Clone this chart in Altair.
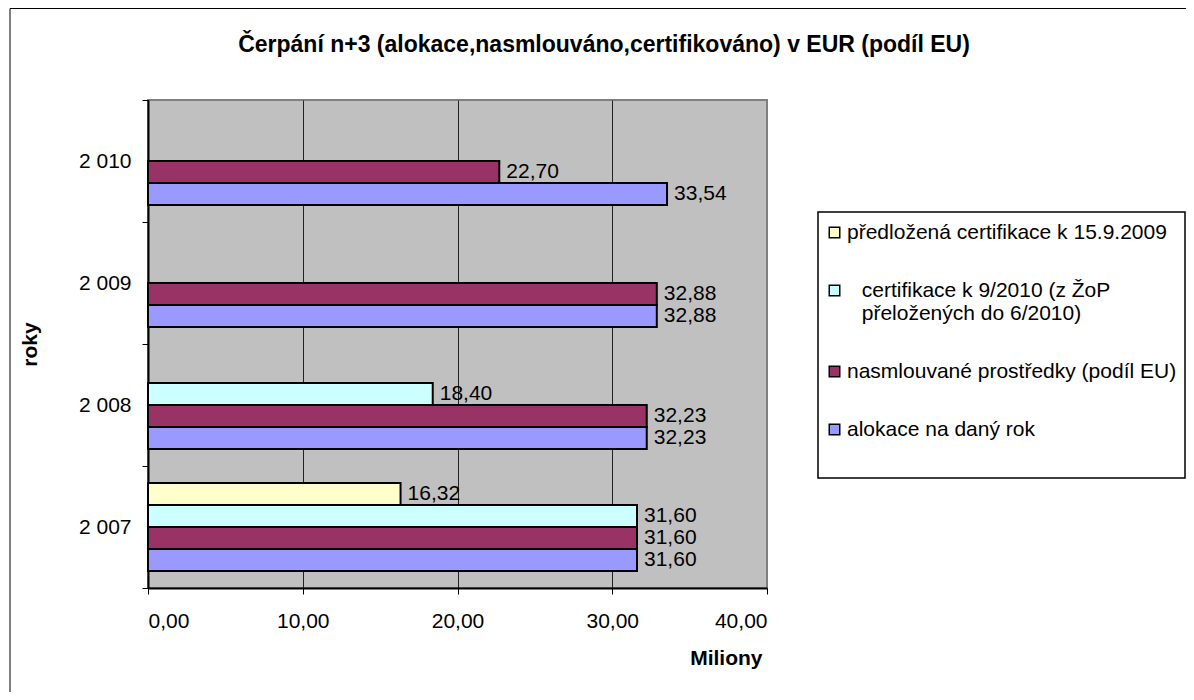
import altair as alt
import pandas as pd

# ---- data ----
title_text = "Čerpání n+3 (alokace,nasmlouváno,certifikováno) v EUR (podíl EU)"
years = ["2 007", "2 008", "2 009", "2 010"]
series = [
    "předložená certifikace k 15.9.2009",
    "certifikace k 9/2010 (z ŽoP přeložených do 6/2010)",
    "nasmlouvané prostředky (podíl EU)",
    "alokace na daný rok",
]
colors = ["#FFFFCC", "#CCFFFF", "#993366", "#9999FF"]

predlozena = [16.32, None, None, None]
certifikace = [31.60, 18.40, None, None]
nasmlouvano = [31.60, 32.23, 32.88, 22.70]
alokace = [31.60, 32.23, 32.88, 33.54]

x_ticks = [0, 10, 20, 30, 40]

rows = []
for s, vals in zip(series, [predlozena, certifikace, nasmlouvano, alokace]):
    for y, v in zip(years, vals):
        if v is not None:
            rows.append({"rok": y, "serie": s, "hodnota": v,
                         "popisek": f"{v:.2f}".replace(".", ",")})
df = pd.DataFrame(rows)

FONT = "Liberation Sans"

y_enc = alt.Y(
    "rok:N",
    sort=years[::-1],
    scale=alt.Scale(paddingInner=0, paddingOuter=0),
    axis=alt.Axis(
        title="roky", tickBand="extent", grid=False,
        domainColor="black", domainWidth=2,
        tickColor="black", tickSize=6, tickWidth=1,
        labelFontSize=21, labelColor="black", labelPadding=11, labelFont=FONT,
        titleFontSize=21, titleFontWeight="bold", titleColor="black", titleFont=FONT,
        titleAngle=270, titleX=-118, titleY=244,
        titleAlign="center", titleBaseline="middle",
    ),
)
x_enc = alt.X(
    "hodnota:Q",
    scale=alt.Scale(domain=[0, 40], nice=False),
    axis=alt.Axis(
        values=x_ticks, title="Miliony",
        labelExpr="replace(format(datum.value, '.2f'), '.', ',')",
        grid=True,
        gridColor={"condition": {"test": "datum.value >= 40", "value": "#808080"},
                   "value": "#222222"},
        gridWidth=1,
        domainColor="black", domainWidth=2,
        tickColor="black", tickSize=6, tickWidth=1,
        labelFontSize=21, labelColor="black", labelPadding=16, labelFont=FONT,
        titleFontSize=21, titleFontWeight="bold", titleColor="black", titleFont=FONT,
        titleX=614, titleY=70, titleAlign="right", titleBaseline="middle",
    ),
)
yoff = alt.YOffset(
    "serie:N",
    sort=series,
    scale=alt.Scale(domain=series, paddingInner=0, paddingOuter=0.7727),
)

legend = alt.Legend(
    orient="none", legendX=676, legendY=122, title=None, padding=0,
    symbolType="square", symbolSize=110, symbolStrokeColor="black",
    symbolStrokeWidth=1.5, symbolOpacity=1,
    labelFontSize=21, labelColor="black", labelFont=FONT, labelOffset=2,
    labelLimit=400, rowPadding=36,
    labelExpr="indexof(datum.label, 'ŽoP') > 0 ? ['\u200b\u2002\u2009certifikace k 9/2010 (z ŽoP', '\u2060\u200b\u2002\u2009přeložených do 6/2010)'] : datum.label",
)

bars = alt.Chart(df).mark_bar(stroke="black", strokeWidth=2).encode(
    x=x_enc, y=y_enc, yOffset=yoff,
    color=alt.Color("serie:N", scale=alt.Scale(domain=series, range=colors), legend=legend),
)
texts = alt.Chart(df).mark_text(
    align="left", baseline="middle", dx=7, fontSize=21, color="black", font=FONT
).encode(x=x_enc, y=y_enc, yOffset=yoff, text="popisek:N")

one = pd.DataFrame({"k": [0]})
frame = alt.Chart(one).mark_rect(fillOpacity=0, stroke="black", strokeWidth=1).encode(
    x=alt.value(-138), x2=alt.value(1100), y=alt.value(-91.5), y2=alt.value(700)
)
legend_box = alt.Chart(one).mark_rect(fill="white", stroke="black", strokeWidth=1.5).encode(
    x=alt.value(670), x2=alt.value(1037), y=alt.value(112), y2=alt.value(378)
)
title = alt.Chart(one).mark_text(
    text=title_text, fontSize=23, fontWeight="bold", font=FONT, color="black",
    align="center", baseline="middle",
).encode(x=alt.value(456), y=alt.value(-55))

chart = alt.layer(frame, legend_box, title, bars, texts).properties(
    width=619, height=488,
    autosize=alt.AutoSizeParams(type="none"),
    padding={"left": 140, "top": 92, "right": 419, "bottom": 104},
).configure(background="white").configure_view(
    fill="#C0C0C0", stroke="#808080", strokeWidth=2
)

chart.save("out.html", embed_options={"renderer": "svg", "actions": False})
